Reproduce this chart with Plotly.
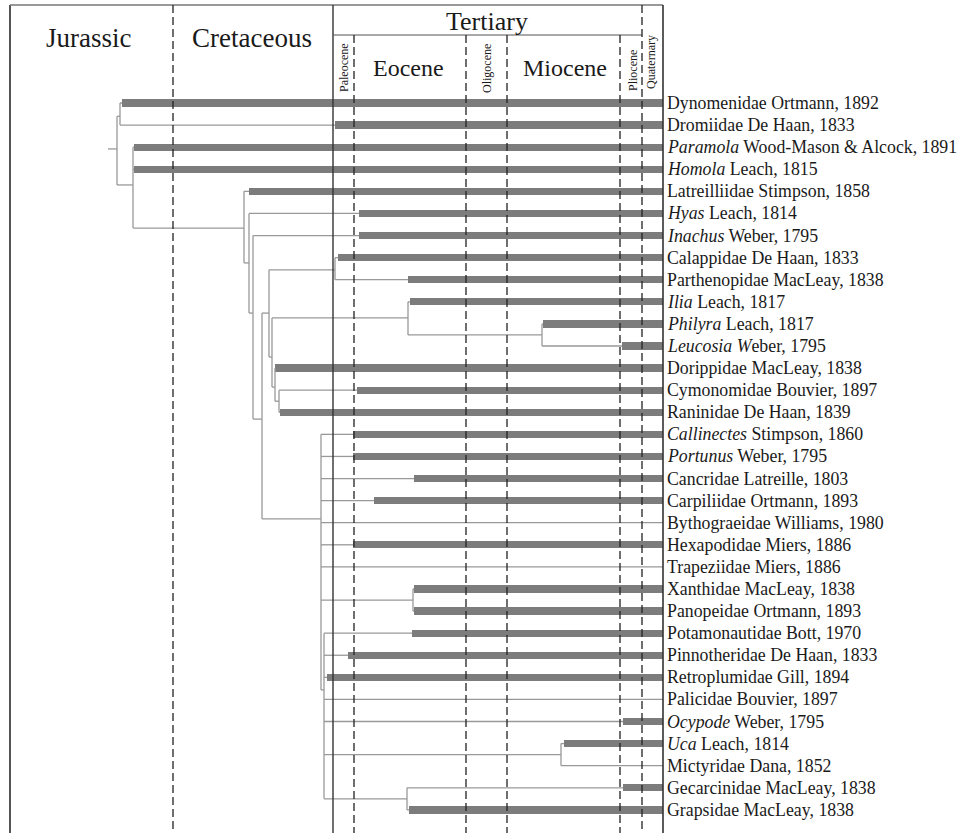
import plotly.graph_objects as go

# ---------------- data ----------------
taxa = [
    "Dynomenidae Ortmann, 1892", "Dromiidae De Haan, 1833",
    "<i>Paramola</i> Wood-Mason &amp; Alcock, 1891", "<i>Homola</i> Leach, 1815",
    "Latreilliidae Stimpson, 1858", "<i>Hyas</i> Leach, 1814",
    "<i>Inachus</i> Weber, 1795", "Calappidae De Haan, 1833",
    "Parthenopidae MacLeay, 1838", "<i>Ilia</i> Leach, 1817",
    "<i>Philyra</i> Leach, 1817", "<i>Leucosia W</i>eber, 1795",
    "Dorippidae MacLeay, 1838", "Cymonomidae Bouvier, 1897",
    "Raninidae De Haan, 1839", "<i>Callinectes</i> Stimpson, 1860",
    "<i>Portunus</i> Weber, 1795", "Cancridae Latreille, 1803",
    "Carpiliidae Ortmann, 1893", "Bythograeidae Williams, 1980",
    "Hexapodidae Miers, 1886", "Trapeziidae Miers, 1886",
    "Xanthidae MacLeay, 1838", "Panopeidae Ortmann, 1893",
    "Potamonautidae Bott, 1970", "Pinnotheridae De Haan, 1833",
    "Retroplumidae Gill, 1894", "Palicidae Bouvier, 1897",
    "<i>Ocypode</i> Weber, 1795", "<i>Uca</i> Leach, 1814",
    "Mictyridae Dana, 1852", "Gecarcinidae MacLeay, 1838",
    "Grapsidae MacLeay, 1838",
]
# fossil-record start of each taxon on the (non-linear) time axis; None = no fossil bar
fossil_start = [122, 335, 134, 134, 249, 359, 359, 338, 408, 410, 543, 622,
                275, 357, 280, 353, 353, 414, 374, None, 353, None, 414, 414,
                412, 348, 327, None, 623, 564, None, 623, 409]
present = 663

# time-axis boundaries
period_bounds = {"Jurassic": 10, "Cretaceous": 173, "Tertiary": 333, "end": 663}
epoch_bounds = {"Paleocene": 333, "Eocene": 354, "Oligocene": 466,
                "Miocene": 507, "Pliocene": 620, "Quaternary": 642}

# internal nodes: name -> (time position, row position, children)
nodes = {
    "root": (117, 2.08, ["nDD", "nPH"]),
    "nDD": (120, 0.6, [0, 1]),
    "nPH": (133, 3.71, [2, 3, "nC"]),
    "nC": (244, 5.66, [4, "n249"]),
    "n249": (249, 7.24, [5, "n253"]),
    "n253": (253, 9.51, [6, "n262"]),
    "n262": (262, 14.31, ["n269", "n321"]),
    "n269": (269, 9.51, ["nCP", "n272"]),
    "nCP": (335, 7.55, [7, 8]),
    "n272": (272, 11.5, ["nIl", "n275"]),
    "nIl": (408, 9.73, [9, "nPL"]),
    "nPL": (542, 10.5, [10, 11]),
    "n275": (275, 12.86, [12, "n279"]),
    "n279": (279, 13.5, [13, 14]),
    "n321": (321, 18.83, [15, 16, 17, 18, 19, 20, 21, "nXP", "n324"]),
    "nXP": (413, 22.5, [22, 23]),
    "n324": (324, 26.57, [24, 25, 26, 27, 28, "nUM", "nGG"]),
    "nUM": (561, 29.5, [29, 30]),
    "nGG": (407, 31.5, [31, 32]),
}
root_stem = 108

# ---------------- layout helpers ----------------
W, H = 962, 833
ROW0, ROWSTEP = 103, 22.09


def prow(p):  # pixel row -> row units (layout only)
    return (p - ROW0) / ROWSTEP


def ppaper(p):  # pixel row -> paper fraction
    return 1 - p / H


# ---------------- tree edges ----------------
ex, ey = [], []


def child_pos(c):
    if isinstance(c, str):
        return nodes[c][0], nodes[c][1]
    s = fossil_start[c]
    return (s if s is not None else present), c


for name, (nx, ny, ch) in nodes.items():
    ys = [child_pos(c)[1] for c in ch]
    ex += [nx, nx, None]
    ey += [min(ys), max(ys), None]
    for c in ch:
        cx, cy = child_pos(c)
        ex += [nx, cx, None]
        ey += [cy, cy, None]
ex += [root_stem, nodes["root"][0], None]
ey += [nodes["root"][1], nodes["root"][1], None]

fig = go.Figure()
fig.add_trace(go.Scatter(x=ex, y=ey, mode="lines",
                         line=dict(color="#999999", width=1.3),
                         hoverinfo="skip", showlegend=False))

rows = [i for i, s in enumerate(fossil_start) if s is not None]
fig.add_trace(go.Bar(
    y=rows, x=[present - fossil_start[i] for i in rows],
    base=[fossil_start[i] for i in rows], orientation="h", width=0.33,
    marker=dict(color="#7c7c7c", line=dict(width=0)), showlegend=False,
    hoverinfo="skip"))

# ---------------- frame & period lines ----------------
top, mid, bot = prow(5), prow(35), prow(H)
dark = "#333333"
shapes = []
shapes.append(dict(type="line", x0=period_bounds["Jurassic"], x1=period_bounds["Jurassic"],
                   y0=top, y1=bot, line=dict(color="#555555", width=2)))
shapes.append(dict(type="line", x0=period_bounds["Jurassic"], x1=period_bounds["end"],
                   y0=top, y1=top, line=dict(color="#777777", width=1.5)))
shapes.append(dict(type="line", x0=period_bounds["end"], x1=period_bounds["end"],
                   y0=top, y1=bot, line=dict(color=dark, width=1.6)))
shapes.append(dict(type="line", x0=period_bounds["Tertiary"], x1=period_bounds["Tertiary"],
                   y0=top, y1=bot, line=dict(color=dark, width=1.4)))
shapes.append(dict(type="line", x0=period_bounds["Tertiary"], x1=epoch_bounds["Quaternary"],
                   y0=mid, y1=mid, line=dict(color="#555555", width=1.2)))
dash = dict(color="#222222", width=1.3, dash="8px,4px")
shapes.append(dict(type="line", x0=period_bounds["Cretaceous"], x1=period_bounds["Cretaceous"],
                   y0=top, y1=bot, line=dash))
shapes.append(dict(type="line", x0=epoch_bounds["Quaternary"], x1=epoch_bounds["Quaternary"],
                   y0=top, y1=bot, line=dash))
for k in ["Eocene", "Oligocene", "Miocene", "Pliocene"]:
    shapes.append(dict(type="line", x0=epoch_bounds[k], x1=epoch_bounds[k],
                       y0=mid, y1=bot, line=dash))
for s in shapes:
    s.update(xref="x", yref="y", layer="above")

# ---------------- text ----------------
serif = "Liberation Serif, Times New Roman, serif"
ann = []
for i, t in enumerate(taxa):
    ann.append(dict(x=present + 2, y=i, xref="x", yref="y", text=t, showarrow=False,
                    xanchor="left", yanchor="middle",
                    font=dict(family=serif, size=17.8, color="#1a1a1a")))

big = [("Jurassic", 88, 38, 27), ("Cretaceous", 252, 38, 27),
       ("Tertiary", 487, 21, 26), ("Eocene", 408, 68, 24), ("Miocene", 565, 68, 24)]
for t, x, y, s in big:
    ann.append(dict(x=x, y=ppaper(y), xref="x", yref="paper", text=t, showarrow=False,
                    xanchor="center", yanchor="middle", borderpad=0,
                    font=dict(family=serif, size=s, color="#1a1a1a")))
small = [("Paleocene", 344, 68), ("Oligocene", 487, 69),
         ("Pliocene", 633, 71), ("Quaternary", 651, 62)]
for t, x, y in small:
    ann.append(dict(x=x, y=ppaper(y), xref="x", yref="paper", text=t, showarrow=False,
                    textangle=-90, xanchor="center", yanchor="middle",
                    font=dict(family=serif, size=12, color="#1a1a1a")))

fig.update_layout(
    width=W, height=H, margin=dict(l=0, r=0, t=0, b=0),
    paper_bgcolor="white", plot_bgcolor="white",
    xaxis=dict(range=[0, W], visible=False, fixedrange=True),
    yaxis=dict(range=[prow(H), prow(0)], visible=False, fixedrange=True),
    shapes=shapes, annotations=ann, showlegend=False, bargap=0,
)
fig.write_html("out.html", config={"displayModeBar": False},
               post_script="document.body.style.margin='0';document.body.style.overflow='hidden';")
